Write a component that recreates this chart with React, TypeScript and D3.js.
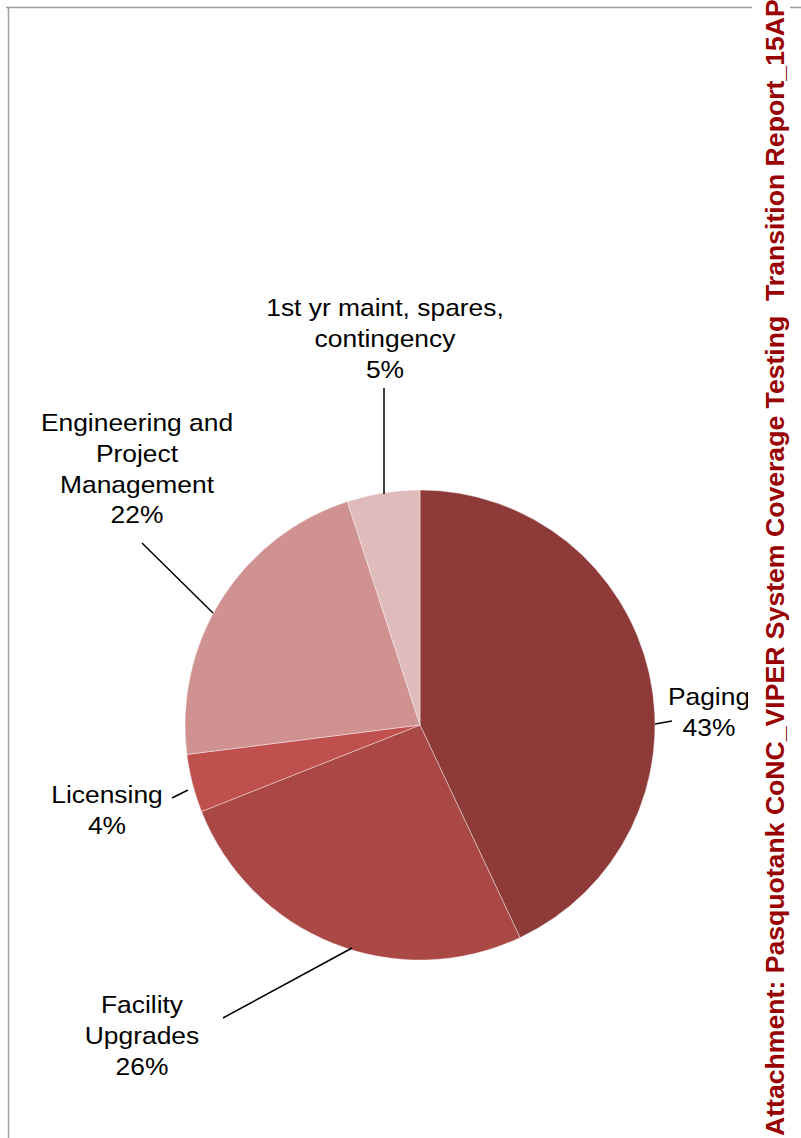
import React from "react";
import * as d3 from "d3";

const categories = ["Paging", "Facility Upgrades", "Licensing", "Engineering and Project Management", "1st yr maint, spares, contingency"];
const values = [43, 26, 4, 22, 5];
const colors = ["#8D3A39", "#AA4845", "#C0504D", "#D09291", "#E0BBBB"];
const labelLines = [
  ["Paging", "43%"],
  ["Facility", "Upgrades", "26%"],
  ["Licensing", "4%"],
  ["Engineering and", "Project", "Management", "22%"],
  ["1st yr maint, spares,", "contingency", "5%"],
];
// label centre [x, first baseline y] and leader line [x1,y1,x2,y2]
const labelPos = [
  [709, 705],
  [142, 1013],
  [107, 803],
  [137, 431],
  [385, 316],
];
const leaders = [
  [655, 724, 672, 721],
  [223, 1018, 352, 948],
  [172, 798, 188, 790],
  [142, 543, 213, 613],
  [384, 388, 384, 494],
];
const sideText = "Attachment: Pasquotank CoNC_VIPER System Coverage Testing  Transition Report_15AP";

export default function App() {
  const W = 801, H = 1138;
  const cx = 420, cy = 725, r = 235;
  const pie = d3.pie<number>().sort(null).value((d) => d);
  const arcs = pie(values);
  const arc = d3.arc<d3.PieArcDatum<number>>().innerRadius(0).outerRadius(r);
  return (
    <svg width={W} height={H} style={{ position: "absolute", left: 0, top: 0 }} fontFamily="Liberation Sans, Arial, sans-serif">
      <defs>
        <clipPath id="plot">
          <rect x={0} y={0} width={748} height={H} />
        </clipPath>
      </defs>
      <rect width={W} height={H} fill="#fff" />
      <line x1={6} y1={7.5} x2={752} y2={7.5} stroke="#a0a0a0" strokeWidth={1.5} />
      <line x1={790} y1={7.5} x2={801} y2={7.5} stroke="#a0a0a0" strokeWidth={1.5} />
      <line x1={8.5} y1={7} x2={8.5} y2={H} stroke="#a0a0a0" strokeWidth={1.5} />
      <g clipPath="url(#plot)">
        <g transform={`translate(${cx},${cy})`}>
          {arcs.map((a, i) => (
            <path key={categories[i]} d={arc(a) || ""} fill={colors[i]} stroke="#fff" strokeWidth={0.4} />
          ))}
        </g>
        {leaders.map((l, i) => (
          <line key={"l" + i} x1={l[0]} y1={l[1]} x2={l[2]} y2={l[3]} stroke="#000" strokeWidth={1.5} />
        ))}
        {labelLines.map((lines, i) => (
          <g key={"t" + i} transform={`translate(${labelPos[i][0]},${labelPos[i][1]}) scale(1.1,1)`}>
            {lines.map((s, j) => (
              <text key={j} x={0} y={j * 30.8} textAnchor="middle" fontSize={24} fill="#000">
                {s}
              </text>
            ))}
          </g>
        ))}
      </g>
      <text
        transform="translate(784,1136) rotate(-90) scale(1.005,1)"
        fontSize={26.5}
        fontWeight="bold"
        fill="#990000"
        textAnchor="start"
        style={{ whiteSpace: "pre" }}
      >
        {sideText}
      </text>
    </svg>
  );
}
